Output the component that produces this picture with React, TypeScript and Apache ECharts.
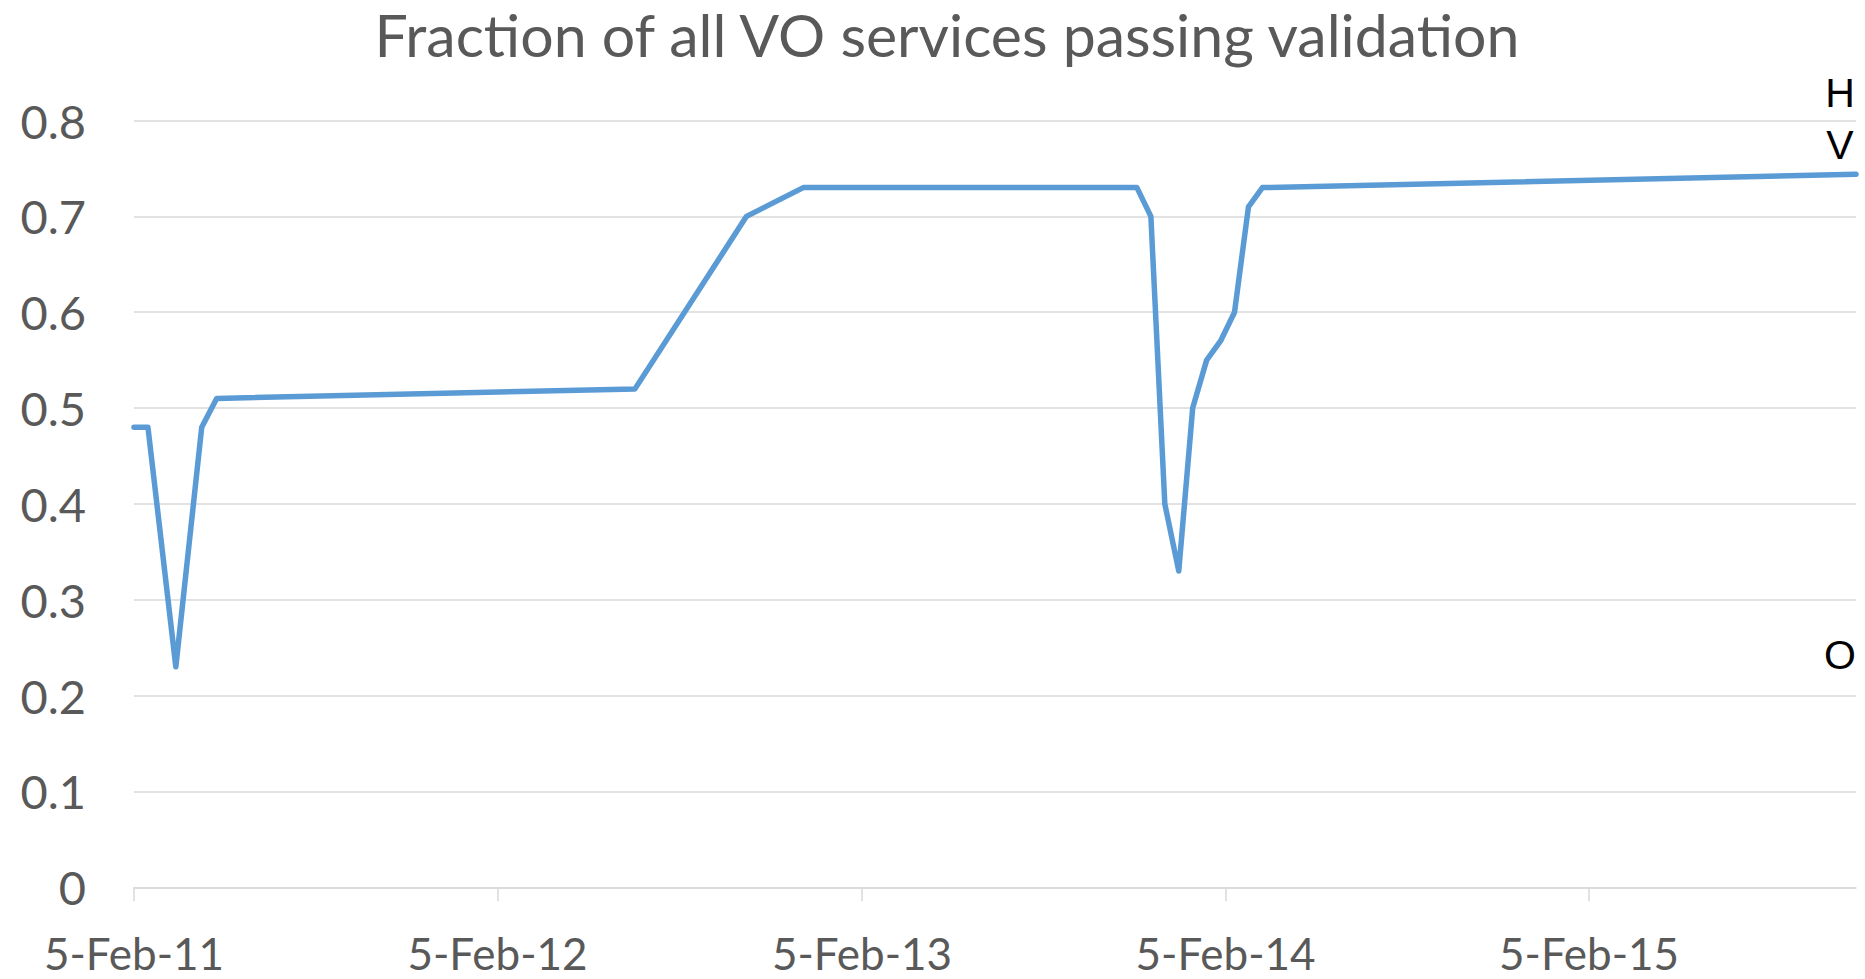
import React, { useEffect, useRef } from "react";
import * as echarts from "echarts";

const title = "Fraction of all VO services passing validation";

const dates = [
  "2011-02-05", "2011-02-19", "2011-03-19", "2011-04-14", "2011-04-29",
  "2012-06-22", "2012-10-12", "2012-12-08",
  "2013-11-08", "2013-11-22", "2013-12-06", "2013-12-20",
  "2014-01-03", "2014-01-17", "2014-01-31", "2014-02-14", "2014-02-28", "2014-03-14",
  "2015-10-31",
];
const values = [
  0.48, 0.48, 0.23, 0.48, 0.51,
  0.52, 0.70, 0.73,
  0.73, 0.70, 0.40, 0.33,
  0.50, 0.55, 0.57, 0.60, 0.71, 0.73,
  0.744,
];

const tickDates = ["2011-02-05", "2012-02-05", "2013-02-05", "2014-02-05", "2015-02-05"];
const tickLabels = ["5-Feb-11", "5-Feb-12", "5-Feb-13", "5-Feb-14", "5-Feb-15"];

const sideLabels = ["H", "V", "O"];

const DAY = 86400000;
const t0 = Date.parse(dates[0] + "T00:00:00Z");
const toDay = (s: string) => Math.round((Date.parse(s + "T00:00:00Z") - t0) / DAY);

export default function App() {
  const ref = useRef<HTMLDivElement>(null);
  useEffect(() => {
    if (!ref.current) return;
    const chart = echarts.init(ref.current, null, { renderer: "svg" });
    const tickDays = tickDates.map(toDay);
    const labelMap: Record<number, string> = {};
    tickDays.forEach((t, i) => (labelMap[t] = tickLabels[i]));
    const data = dates.map((d, i) => [toDay(d), values[i]]);
    const sidePos = [
      { x: 1840, y: 93 },
      { x: 1840, y: 145 },
      { x: 1840, y: 655 },
    ];
    chart.setOption({
      animation: false,
      backgroundColor: "#ffffff",
      title: {
        text: title,
        left: 942,
        top: 29,
        textAlign: "center",
        textVerticalAlign: "middle",
        textStyle: {
          fontFamily: "Lato",
          fontSize: 59,
          fontWeight: "normal",
          color: "#595959",
        },
      },
      grid: { left: 134, right: 9, top: 120.5, bottom: 91.7, containLabel: false },
      xAxis: {
        type: "value",
        min: 0,
        max: toDay(dates[dates.length - 1]),
        axisLine: { show: true, lineStyle: { color: "#d9d9d9", width: 1.5 } },
        axisTick: {
          show: true,
          length: 14,
          customValues: tickDays,
          lineStyle: { color: "#d9d9d9", width: 1.5 },
        },
        axisLabel: {
          customValues: tickDays,
          formatter: (v: number) => labelMap[Math.round(v)] ?? "",
          fontFamily: "Lato",
          fontSize: 44,
          lineHeight: 40,
          color: "#595959",
          margin: 46,
        },
        splitLine: { show: false },
      },
      yAxis: {
        type: "value",
        min: 0,
        max: 0.8,
        interval: 0.1,
        axisLine: { show: false },
        axisTick: { show: false },
        axisLabel: {
          fontFamily: "Lato",
          fontSize: 47,
          color: "#595959",
          margin: 48,
        },
        splitLine: { lineStyle: { color: "#d9d9d9", width: 1.5 } },
      },
      series: [
        {
          type: "line",
          data,
          showSymbol: false,
          symbol: "none",
          lineStyle: { color: "#5b9bd5", width: 5.5, cap: "round", join: "round" },
          itemStyle: { color: "#5b9bd5" },
        },
      ],
      graphic: sideLabels.map((t, i) => ({
        type: "text",
        x: sidePos[i].x,
        y: sidePos[i].y,
        style: {
          text: t,
          fontFamily: "Liberation Sans",
          fontSize: 41,
          fill: "#000000",
          align: "center",
          verticalAlign: "middle",
        },
      })),
    });
    return () => chart.dispose();
  }, []);
  return (
    <div
      ref={ref}
      style={{ position: "fixed", left: 0, top: 0, width: 1865, height: 979 }}
    />
  );
}
